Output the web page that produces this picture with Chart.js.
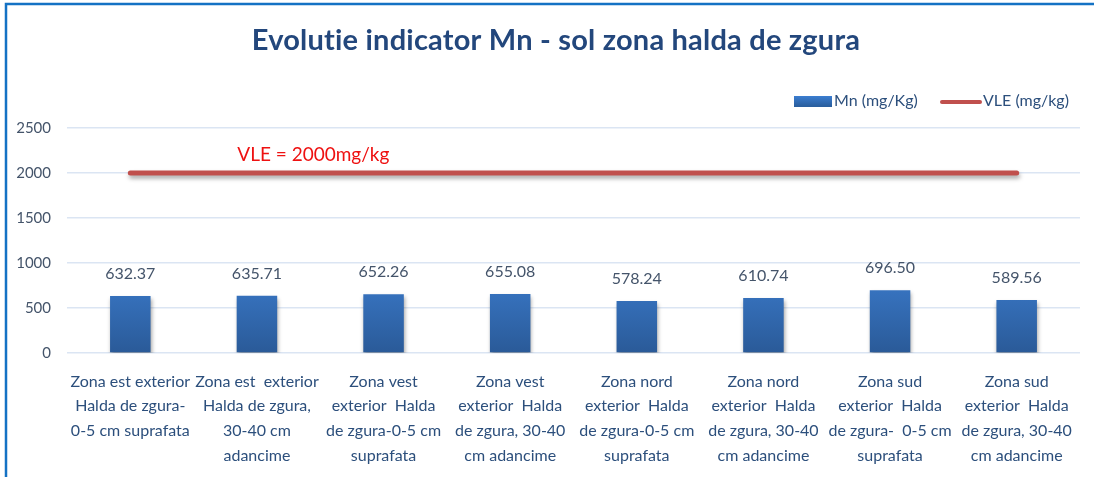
<!DOCTYPE html>
<html>
<head>
<meta charset="utf-8">
<script src="https://cdn.jsdelivr.net/npm/chart.js@4/dist/chart.umd.min.js"></script>
<style>
  html, body { margin: 0; padding: 0; background: #ffffff; }
  #wrap { position: relative; width: 1094px; height: 477px; }
</style>
</head>
<body>
<div id="wrap"><canvas id="c" width="1094" height="477"></canvas></div>
<script>
// Sampling points (soil, slag heap area)
const categories = [
  ["Zona est exterior", "Halda de zgura-", "0-5 cm suprafata"],
  ["Zona est  exterior", "Halda de zgura,", "30-40 cm", "adancime"],
  ["Zona vest", "exterior  Halda", "de zgura-0-5 cm", "suprafata"],
  ["Zona vest", "exterior  Halda", "de zgura, 30-40", "cm adancime"],
  ["Zona nord", "exterior  Halda", "de zgura-0-5 cm", "suprafata"],
  ["Zona nord", "exterior  Halda", "de zgura, 30-40", "cm adancime"],
  ["Zona sud", "exterior  Halda", "de zgura-  0-5 cm", "suprafata"],
  ["Zona sud", "exterior  Halda", "de zgura, 30-40", "cm adancime"]
];
// Measured Mn concentration (mg/Kg)
const mnValues = [632.37, 635.71, 652.26, 655.08, 578.24, 610.74, 696.50, 589.56];
// Limit value (VLE, mg/kg)
const vleValues = [2000, 2000, 2000, 2000, 2000, 2000, 2000, 2000];
const vleText = "VLE = 2000mg/kg";
const yTicks = [0, 500, 1000, 1500, 2000, 2500];

const titleText = "Evolutie indicator Mn - sol zona halda de zgura";
const FONT = "Lato, 'Open Sans', sans-serif";

const frame = {
  id: 'frame',
  beforeDraw(chart) {
    const ctx = chart.ctx;
    ctx.save();
    ctx.fillStyle = '#ffffff';
    ctx.fillRect(0, 0, chart.width, chart.height);
    ctx.strokeStyle = '#1472c4';
    ctx.lineWidth = 2.5;
    ctx.beginPath();
    ctx.moveTo(6, chart.height);
    ctx.lineTo(6, 4);
    ctx.lineTo(chart.width, 4);
    ctx.stroke();
    // title (slight letter spacing keeps "ti" from forming a ligature)
    ctx.fillStyle = '#23477c';
    ctx.font = "bold 29px " + FONT;
    ctx.letterSpacing = '0.2px';
    ctx.textAlign = 'center';
    ctx.textBaseline = 'middle';
    ctx.fillText(titleText, 556, 41);
    ctx.restore();
  }
};

const lineShadow = {
  id: 'lineShadow',
  beforeDatasetDraw(chart, args) {
    const ctx = chart.ctx;
    ctx.save();
    ctx.shadowColor = 'rgba(0,0,0,0.35)';
    ctx.shadowBlur = 4;
    ctx.shadowOffsetX = 1;
    ctx.shadowOffsetY = 3;
  },
  afterDatasetDraw(chart) {
    chart.ctx.restore();
  }
};

const annotations = {
  id: 'annotations',
  afterDatasetsDraw(chart) {
    const ctx = chart.ctx;
    const xs = chart.scales.x, ys = chart.scales.y;
    ctx.save();
    // value labels above bars
    ctx.font = "16px " + FONT;
    ctx.fillStyle = '#44546a';
    ctx.textAlign = 'center';
    ctx.textBaseline = 'middle';
    const meta = chart.getDatasetMeta(0);
    meta.data.forEach((bar, i) => {
      ctx.fillText(mnValues[i].toFixed(2), bar.x, bar.y - 22);
    });
    // limit label
    ctx.font = "19px " + FONT;
    ctx.fillStyle = '#ee1111';
    ctx.textAlign = 'left';
    ctx.fillText(vleText, xs.getPixelForValue(0) + 107, ys.getPixelForValue(vleValues[0]) - 18);
    // legend
    const ly = 101;
    ctx.font = "16px " + FONT;
    ctx.textBaseline = 'middle';
    const g = ctx.createLinearGradient(0, ly - 5, 0, ly + 5);
    g.addColorStop(0, '#3b7dd0');
    g.addColorStop(1, '#2a5f9f');
    ctx.fillStyle = g;
    ctx.fillRect(794, ly - 5, 38, 11);
    ctx.fillStyle = '#2c4f7c';
    ctx.fillText(chart.data.datasets[0].label, 834, ly);
    ctx.strokeStyle = '#c0504d';
    ctx.lineWidth = 4;
    ctx.lineCap = 'round';
    ctx.beginPath();
    ctx.moveTo(942, ly + 1);
    ctx.lineTo(980, ly + 1);
    ctx.stroke();
    ctx.fillText(chart.data.datasets[1].label, 983, ly);
    ctx.restore();
  }
};

function barGradient(context) {
  const chart = context.chart;
  const area = chart.chartArea;
  if (!area) return '#3572c0';
  const g = chart.ctx.createLinearGradient(0, area.top + 130, 0, area.bottom);
  g.addColorStop(0, '#3d7fd2');
  g.addColorStop(1, '#2a5a98');
  return g;
}

new Chart(document.getElementById('c'), {
  data: {
    labels: categories,
    datasets: [
      {
        type: 'bar',
        label: 'Mn (mg/Kg)',
        data: mnValues,
        backgroundColor: barGradient,
        barPercentage: 0.64,
        categoryPercentage: 0.5,
        order: 2
      },
      {
        type: 'line',
        label: 'VLE (mg/kg)',
        data: vleValues,
        borderColor: '#c0504d',
        borderWidth: 5,
        borderCapStyle: 'round',
        pointRadius: 0,
        fill: false,
        order: 1
      }
    ]
  },
  options: {
    responsive: false,
    animation: false,
    devicePixelRatio: 1,
    layout: { padding: { top: 128, right: 14, left: 0, bottom: 0 } },
    plugins: {
      legend: { display: false },
      title: { display: false },
      tooltip: { enabled: false }
    },
    scales: {
      x: {
        grid: { display: false, drawTicks: false },
        border: { display: false },
        ticks: {
          color: '#2c4f7c',
          font: { family: FONT, size: 16, lineHeight: 1.55 },
          padding: 16,
          maxRotation: 0,
          autoSkip: false
        },
        afterFit(scale) { scale.height = 124; }
      },
      y: {
        min: 0,
        max: 2500,
        afterBuildTicks(scale) { scale.ticks = yTicks.map(v => ({ value: v })); },
        grid: { color: '#dbe5f3', lineWidth: 1.5, drawTicks: false },
        border: { display: false },
        ticks: {
          color: '#44546a',
          font: { family: FONT, size: 15 },
          padding: 16,
          callback: (v) => String(v)
        },
        afterFit(scale) { scale.width = 67; }
      }
    }
  },
  plugins: [frame, annotations, lineShadow]
});
</script>
</body>
</html>
